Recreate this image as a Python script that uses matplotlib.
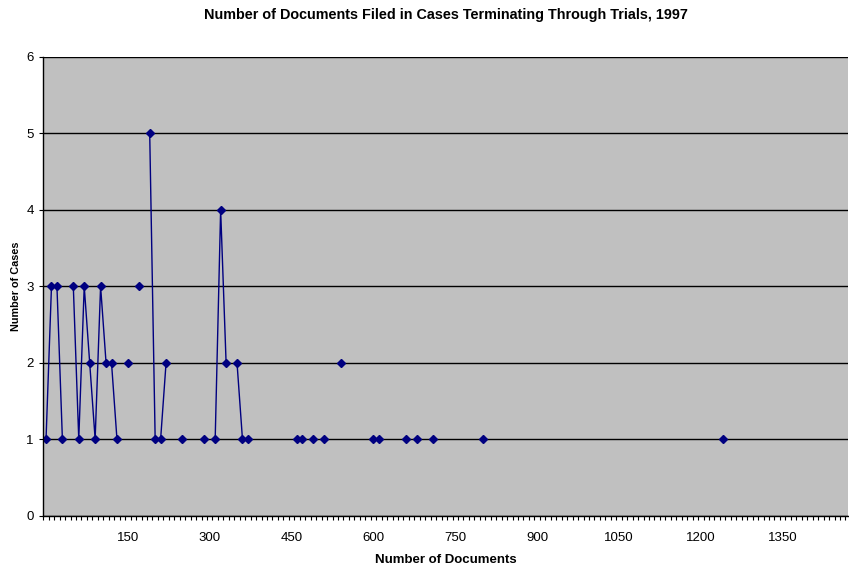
import numpy as np
import pandas as pd
import matplotlib.pyplot as plt
from matplotlib.ticker import FixedLocator, MultipleLocator

plt.rcParams['font.family'] = ['Liberation Sans', 'DejaVu Sans']

# Documents filed (bins of 10) and number of cases in each bin
documents = [0, 10, 20, 30, 50, 60, 70, 80, 90, 100, 110, 120, 130, 150, 170,
             190, 200, 210, 220, 250, 290, 310, 320, 330, 350, 360, 370,
             460, 470, 490, 510, 540, 600, 610, 660, 680, 710, 800, 1240]
cases = [1, 3, 3, 1, 3, 1, 3, 2, 1, 3, 2, 2, 1, 2, 3,
         5, 1, 1, 2, 1, 1, 1, 4, 2, 2, 1, 1,
         1, 1, 1, 1, 2, 1, 1, 1, 1, 1, 1, 1]
x_labels = [150, 300, 450, 600, 750, 900, 1050, 1200, 1350]

# Empty bins break the line, as in a category line chart
series = pd.Series(cases, index=documents).reindex(range(0, 1250, 10))

fig = plt.figure(figsize=(8.49, 5.68), dpi=100)
ax = fig.add_axes([0.051, 0.092, 0.948, 0.808])
ax.set_facecolor('#C0C0C0')

ax.plot(series.index, series.values, color='#000080', linewidth=1.0)
ax.plot(documents, cases, linestyle='none', marker='D', markersize=4.5,
        color='#000080')

ax.set_xlim(-5, 1470)
ax.set_ylim(0, 6)
ax.set_yticks(range(0, 7))
ax.yaxis.grid(True, color='black', linewidth=1.0)
ax.set_axisbelow(True)

ax.xaxis.set_major_locator(FixedLocator(x_labels))
ax.xaxis.set_minor_locator(MultipleLocator(10, offset=5))
ax.tick_params(axis='x', which='major', length=0, labelsize=9.5, pad=12)
ax.tick_params(axis='x', which='minor', length=3, width=0.8, direction='out')
ax.tick_params(axis='y', length=3, width=0.8, labelsize=9.5, pad=4)

for side in ['top', 'right']:
    ax.spines[side].set_visible(False)
for side in ['left', 'bottom']:
    ax.spines[side].set_linewidth(1.0)

ax.set_title('Number of Documents Filed in Cases Terminating Through Trials, 1997',
             fontsize=10.4, fontweight='bold', pad=27)
ax.set_xlabel('Number of Documents', fontsize=9.5, fontweight='bold', labelpad=7)
ax.set_ylabel('Number of Cases', fontsize=7.8, fontweight='bold', labelpad=4)

fig.savefig('out.png', dpi=100)
